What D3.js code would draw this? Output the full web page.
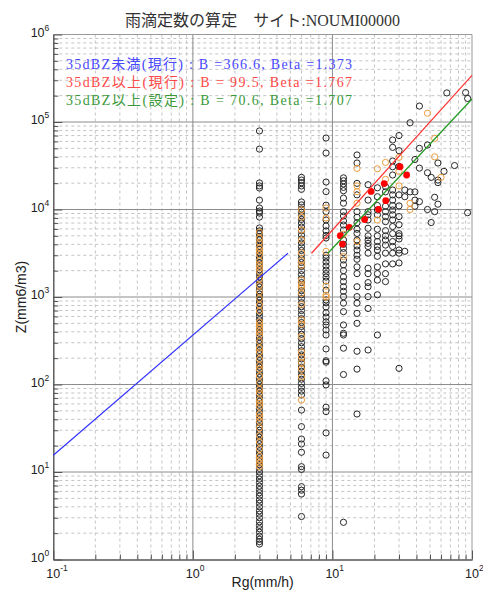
<!DOCTYPE html>
<html>
<head>
<meta charset="utf-8">
<script src="https://cdn.jsdelivr.net/npm/d3@7"></script>
<style>
  html, body { margin: 0; padding: 0; background: #fff; }
  svg { display: block; }
  text { white-space: pre; }
</style>
</head>
<body>
<svg id="chart" width="483" height="590"></svg>
<script>
// ---- Title, axis labels ----
const chartTitle = "雨滴定数の算定　サイト:NOUMI00000";
const xLabel = "Rg(mm/h)";
const yLabel = "Z(mm6/m3)";

// ---- Axis decades ----
const rgDecades = [0.1, 1, 10, 100];
const zDecades = [1, 10, 100, 1000, 10000, 100000, 1000000];

// ---- Z-R relations (Z = B * Rg^Beta) ----
const relationNames = ["35dBZ未満(現行)", "35dBZ以上(現行)", "35dBZ以上(設定)"];
const relationB = [366.6, 99.5, 70.6];
const relationBeta = [1.373, 1.767, 1.707];
const relationSide = ["below", "above", "above"];
const thresholdDbz = 35;

// ---- Observations: [Rg, list of Z] per rain-gauge step ----
const grayColumns = [
  [3, [79000, 49000, 20100, 18600, 17600, 12800, 10400, 9600, 9100, 8200, 6150, 5700, 5300, 4900, 4500, 4100, 3800, 3500, 3200, 2900, 2700, 2450, 2250, 2050, 1880, 1700, 1560, 1420, 1300, 1180, 1080, 1000, 920, 850, 780, 720, 660, 600, 550, 500, 460, 420, 385, 350, 320, 295, 270, 245, 225, 205, 188, 172, 158, 145, 132, 120, 110, 100, 92, 84, 77, 70, 64, 58, 53, 48, 44, 40, 36.5, 33, 30, 27.5, 25, 23, 21, 19.2, 17.5, 16, 14.6, 13.3, 12.1, 11, 10, 9.1, 8.3, 7.6, 6.9, 6.3, 5.8, 5.3, 4.8, 4.4, 4.0, 3.6, 3.3, 3.0, 2.7, 2.45, 2.25, 2.05, 1.85, 1.7, 1.6, 1.5]],
  [6, [23300, 21700, 20200, 18600, 17000, 12200, 11300, 10100, 9300, 8500, 7700, 7000, 6300, 5700, 5100, 4600, 4150, 3750, 3400, 3050, 2750, 2480, 2230, 2000, 1800, 1620, 1460, 1310, 1180, 1060, 960, 860, 775, 700, 630, 565, 510, 460, 415, 375, 335, 300, 270, 243, 218, 196, 176, 158, 142, 128, 115, 103, 93, 84, 76, 51, 33, 23.8, 20.9, 16.8, 11.5, 10.7, 6.8, 6.2, 5.6, 3.1]],
  [9, [65600, 44200, 20600, 16000, 11200, 9450, 7590, 6480, 5700, 5050, 4720, 3000, 2790, 2510, 2260, 2030, 1850, 1690, 1520, 1200, 925, 860, 770, 660, 590, 520, 479, 420, 368, 255, 187, 180, 110, 99, 55, 49, 28, 15.6]],
  [12, [23000, 21300, 19600, 17900, 16400, 13500, 11800, 9450, 8430, 7400, 6650, 5830, 4480, 4000, 3600, 3220, 2650, 2330, 2000, 1700, 1500, 1310, 1160, 1010, 850, 680, 479, 385, 368, 260, 130, 2.66]],
  [15, [42000, 34000, 19900, 14700, 9450, 8150, 7060, 5950, 5330, 4480, 3830, 3440, 3000, 2700, 2210, 1850, 1310, 1010, 850, 650, 500, 240, 150, 46]],
  [18, [19200, 12800, 9450, 8700, 7590, 6100, 5000, 4480, 4100, 3780, 3170, 2130, 1850, 1460, 1310, 1010, 740, 248]],
  [21, [17700, 14000, 11100, 9870, 8700, 5950, 5000, 4300, 3780, 3440, 2920, 2210, 1850, 1560, 1060, 368]],
  [24, [18300, 15900, 10900, 9450, 8300, 7260, 5730, 5000, 4480, 3920, 3170, 2390, 1850, 1500]],
  [27, [62300, 51300, 35800, 30800, 24800, 16700, 14700, 12800, 11100, 9870, 8700, 7590, 6380, 5300, 4300, 3780, 3170, 2390]],
  [30, [70000, 47000, 31000, 14700, 11000, 8300, 6700, 5300, 5000, 4600, 3440, 3170, 2450, 153]],
  [33, [16700, 14000, 3330]],
  [36, [98000, 15900]],
  [39, [37300, 15900, 12800, 10900]],
  [42, [152000, 50000, 29700, 12300]],
  [48, [54600, 26300, 10000]],
  [51, [23300, 7100]],
  [54, [13800, 9450]],
  [57, [34000, 21700, 20300, 11500]],
  [63, [27300]],
  [66, [215000]],
  [75, [31800]],
  [90, [217000]],
  [93, [186000, 9200]]
];

const orangeColumns = [
  [3, [5500, 4700, 4200, 3650, 3350, 3050, 2600, 2350, 2150, 1950, 1600, 1350, 1150, 960, 810, 690, 520, 480, 440, 400, 365, 310, 260, 235, 195, 165, 150, 125, 105, 88, 80, 67, 61, 56, 46, 42, 38, 32, 26, 22, 18.3, 15.2, 13.8, 12.6, 11.5]],
  [6, [9900, 8200, 5830, 4480, 3200, 2600, 2300, 1560, 1380, 1300, 1100, 820, 546, 490, 355, 235, 205, 178, 150, 122, 66.5]],
  [9, [10400, 8000, 3320, 1330, 1050, 1000]],
  [12, [5220, 2900]],
  [15, [29500, 18600, 16000, 11800, 4300]],
  [21, [29200, 7590]],
  [24, [34500, 22100]],
  [30, [39500, 27300, 18600]],
  [36, [11800, 10000]],
  [48, [126000]],
  [54, [65000, 40000]],
  [60, [23300]]
];

// Bin means
const redRg = [11.4, 11.8, 13.2, 17.0, 18.9, 21.4, 23.5, 24.1, 30.5, 34.0];
const redZ = [5020, 4030, 6260, 7690, 16100, 10050, 19800, 12600, 30800, 24800];

// ---- Styles ----
const relationColors = ["#3333ff", "#ff3333", "#229922"];
const legendColors = ["#4848ff", "#ff4848", "#3a9a3a"];
const grayStroke = "#262626";
const orangeStroke = "#ee9c3c";
const redFill = "#ff0000";

// ---- Layout ----
const plotLeft = 53.3, plotRight = 472, plotTop = 34.5, plotBottom = 559.5;
const svg = d3.select("#chart");

const x = d3.scaleLog().domain([0.1, 100]).range([plotLeft, plotRight]);
const y = d3.scaleLog().domain([1, 1e6]).range([plotBottom, plotTop]);

// minor values between decades
function minors(decades) {
  const out = [];
  decades.slice(0, -1).forEach(d => { for (let k = 2; k <= 9; k++) out.push(d * k); });
  return out;
}
const rgMinor = minors(rgDecades);
const zMinor = minors(zDecades);

// ---- Grid ----
const grid = svg.append("g");
grid.selectAll(".vmin").data(rgMinor).join("line")
  .attr("x1", d => x(d)).attr("x2", d => x(d))
  .attr("y1", plotTop).attr("y2", plotBottom)
  .attr("stroke", "#c4c4c4").attr("stroke-width", 1).attr("stroke-dasharray", "3,3");
grid.selectAll(".hmin").data(zMinor).join("line")
  .attr("x1", plotLeft).attr("x2", plotRight)
  .attr("y1", d => y(d)).attr("y2", d => y(d))
  .attr("stroke", "#c4c4c4").attr("stroke-width", 1).attr("stroke-dasharray", "3,3");
grid.selectAll(".vmaj").data(rgDecades.slice(1, -1)).join("line")
  .attr("x1", d => x(d)).attr("x2", d => x(d))
  .attr("y1", plotTop).attr("y2", plotBottom)
  .attr("stroke", "#8c8c8c").attr("stroke-width", 1);
grid.selectAll(".hmaj").data(zDecades.slice(1, -1)).join("line")
  .attr("x1", plotLeft).attr("x2", plotRight)
  .attr("y1", d => y(d)).attr("y2", d => y(d))
  .attr("stroke", "#8c8c8c").attr("stroke-width", 1);

// top and right border
svg.append("line").attr("x1", plotLeft).attr("x2", plotRight).attr("y1", plotTop).attr("y2", plotTop)
  .attr("stroke", "#999");
svg.append("line").attr("x1", plotRight).attr("x2", plotRight).attr("y1", plotTop).attr("y2", plotBottom)
  .attr("stroke", "#999");

// ---- Axes (inward ticks) ----
function styleAxis(g) {
  g.selectAll("path").attr("stroke", "#555");
  g.selectAll("line").attr("stroke", "#555");
}
svg.append("g").attr("transform", `translate(${plotLeft},0)`)
  .call(d3.axisLeft(y).tickValues(zMinor).tickSizeInner(-5).tickSizeOuter(0).tickFormat(""))
  .call(styleAxis);
svg.append("g").attr("transform", `translate(${plotLeft},0)`)
  .call(d3.axisLeft(y).tickValues(zDecades).tickSizeInner(-9).tickSizeOuter(0).tickFormat(""))
  .call(styleAxis);
svg.append("g").attr("transform", `translate(0,${plotBottom})`)
  .call(d3.axisBottom(x).tickValues(rgMinor).tickSizeInner(-5).tickSizeOuter(0).tickFormat(""))
  .call(styleAxis);
svg.append("g").attr("transform", `translate(0,${plotBottom})`)
  .call(d3.axisBottom(x).tickValues(rgDecades).tickSizeInner(-9).tickSizeOuter(0).tickFormat(""))
  .call(styleAxis);

// ---- Tick labels 10^n ----
const tickFont = "'Liberation Sans', Arial, sans-serif";
const yl = svg.append("g").attr("font-family", tickFont).attr("fill", "#222");
yl.selectAll("text").data(zDecades).join("text")
  .attr("x", plotLeft - 4).attr("y", d => y(d) + 2)
  .attr("text-anchor", "end").attr("font-size", 12.5)
  .each(function(d) {
    const t = d3.select(this);
    t.append("tspan").text("10");
    t.append("tspan").attr("dy", -6).attr("font-size", 8.5).text(Math.round(Math.log10(d)));
  });
const xl = svg.append("g").attr("font-family", tickFont).attr("fill", "#222");
xl.selectAll("text").data(rgDecades).join("text")
  .attr("x", d => x(d) - 7).attr("y", 578)
  .attr("text-anchor", "start").attr("font-size", 12.5)
  .each(function(d) {
    const t = d3.select(this);
    t.append("tspan").text("10");
    t.append("tspan").attr("dy", -7).attr("font-size", 8.5).text(Math.round(Math.log10(d)));
  });

svg.append("text").attr("x", (plotLeft + plotRight) / 2).attr("y", 587)
  .attr("text-anchor", "middle").attr("font-family", tickFont).attr("font-size", 14)
  .attr("fill", "#222").text(xLabel);
svg.append("text")
  .attr("transform", `translate(26,${(plotTop + plotBottom) / 2}) rotate(-90)`)
  .attr("text-anchor", "middle").attr("font-family", tickFont).attr("font-size", 14)
  .attr("fill", "#222").text(yLabel);

// ---- Title ----
const serifFont = "'Liberation Serif', 'Noto Sans CJK JP', serif";
svg.append("text").attr("x", 262.5).attr("y", 26).attr("text-anchor", "middle")
  .attr("font-family", serifFont).attr("font-size", 16).attr("fill", "#333")
  .attr("textLength", 275).attr("lengthAdjust", "spacing")
  .text(chartTitle);

// ---- Observations ----
const plot = svg.append("g");
const grayPts = grayColumns.flatMap(([rg, zs]) => zs.map(z => [rg, z]));
const orangePts = orangeColumns.flatMap(([rg, zs]) => zs.map(z => [rg, z]));
plot.selectAll(".g").data(grayPts).join("circle")
  .attr("cx", d => x(d[0])).attr("cy", d => y(d[1])).attr("r", 3.1)
  .attr("fill", "none").attr("stroke", grayStroke).attr("stroke-width", 1);
plot.selectAll(".o").data(orangePts).join("circle")
  .attr("cx", d => x(d[0])).attr("cy", d => y(d[1])).attr("r", 3.1)
  .attr("fill", "none").attr("stroke", orangeStroke).attr("stroke-width", 1);

// ---- Z-R relation lines, split at the dBZ threshold ----
const zThreshold = Math.pow(10, thresholdDbz / 10);
const line = d3.line().x(d => x(d[0])).y(d => y(d[1]));
relationB.forEach((B, i) => {
  const beta = relationBeta[i];
  const rgT = Math.pow(zThreshold / B, 1 / beta);
  const ends = relationSide[i] === "below" ? [x.domain()[0], rgT] : [rgT, x.domain()[1]];
  const pts = ends.map(r => [r, B * Math.pow(r, beta)]);
  svg.append("path").attr("d", line(pts)).attr("fill", "none")
    .attr("stroke", relationColors[i]).attr("stroke-width", 1.2);
});

// bin means on top
plot.selectAll(".r").data(redRg.map((r, i) => [r, redZ[i]])).join("circle")
  .attr("cx", d => x(d[0])).attr("cy", d => y(d[1])).attr("r", 3.4)
  .attr("fill", redFill).attr("stroke", "none");

// ---- Legend text ----
const fmtB = d3.format(">5.1f"), fmtBeta = d3.format(".3f");
const legend = svg.append("g").attr("font-family", serifFont).attr("font-size", 14);
relationNames.forEach((name, i) => {
  legend.append("text").attr("x", 66).attr("y", 69 + i * 18)
    .attr("fill", legendColors[i])
    .attr("textLength", 286).attr("lengthAdjust", "spacing")
    .text(`${name} : B =${fmtB(relationB[i])}, Beta =${fmtBeta(relationBeta[i])}`);
});
</script>
</body>
</html>
